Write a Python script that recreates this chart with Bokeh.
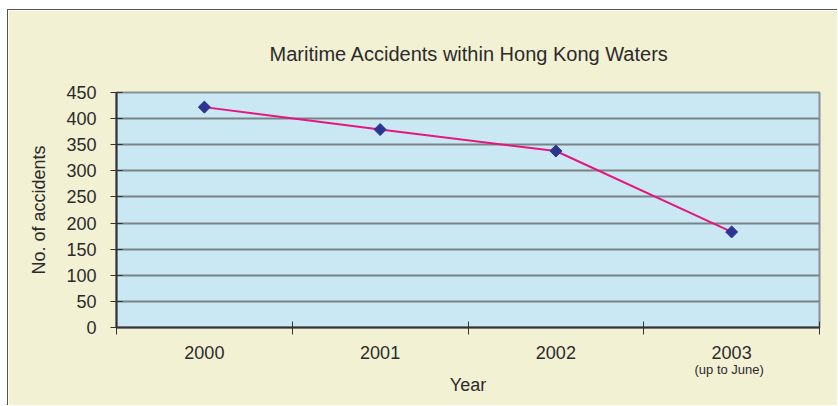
import math
from bokeh.plotting import figure
from bokeh.models import Range1d, FixedTicker, Title
from bokeh.embed import file_html
from bokeh.resources import INLINE

years = ["2000", "2001", "2002", "2003"]
accidents = [422, 379, 338, 183]
y_ticks = [0, 50, 100, 150, 200, 250, 300, 350, 400, 450]
note_2003 = "(up to June)"

xs = [i + 0.5 for i in range(len(years))]
FONT = "Liberation Sans"
TXT = "#2b2b2b"

p = figure(width=830, height=396, output_backend="svg", toolbar_location=None,
           x_range=Range1d(0, len(years)), y_range=Range1d(0, 450),
           min_border_left=108, min_border_right=19, min_border_top=82, min_border_bottom=79,
           title="Maritime Accidents within Hong Kong Waters")
p.margin = (9, 0, 0, 7)
p.styles = {"border-left": "1px solid #555555", "border-top": "1px solid #555555"}

p.border_fill_color = "#F3F1D4"
p.background_fill_color = "#C9E8F3"
p.outline_line_color = "#8a9096"
p.outline_line_width = 2

p.title.text_font = FONT
p.title.text_font_size = "20px"
p.title.text_font_style = "normal"
p.title.text_color = TXT
p.title.align = "left"
p.title.offset = 153
p.title.standoff = 56

# x axis
p.xaxis.ticker = FixedTicker(ticks=xs, minor_ticks=list(range(len(years) + 1)))
p.xaxis.major_label_overrides = {x: y for x, y in zip(xs, years)}
p.xaxis.major_tick_in = 0
p.xaxis.major_tick_out = 0
p.xaxis.minor_tick_in = 6
p.xaxis.minor_tick_out = 7
p.xaxis.minor_tick_line_color = "#333333"
p.xaxis.axis_line_color = "#333333"
p.xaxis.axis_line_width = 2
p.xaxis.major_label_standoff = 11
p.xaxis.major_label_text_font = FONT
p.xaxis.major_label_text_font_size = "18px"
p.xaxis.major_label_text_color = TXT

# note under 2003 and the x axis title
note = Title(text=note_2003, align="left", offset=578, text_font=FONT,
             text_font_size="13px", text_font_style="normal", text_color=TXT,
             standoff=-4)
year_title = Title(text="Year", align="center", offset=0, text_font=FONT,
                   text_font_size="18px", text_font_style="normal", text_color=TXT,
                   standoff=-4)
p.add_layout(note, "below")
p.add_layout(year_title, "below")

# y axis
p.yaxis.ticker = FixedTicker(ticks=y_ticks)
p.yaxis.major_tick_in = 6
p.yaxis.major_tick_out = 6
p.yaxis.minor_tick_line_color = None
p.yaxis.major_tick_line_color = "#333333"
p.yaxis.axis_line_color = "#333333"
p.yaxis.axis_line_width = 2
p.yaxis.major_label_standoff = 14
p.yaxis.major_label_text_font = FONT
p.yaxis.major_label_text_font_size = "18px"
p.yaxis.major_label_text_color = TXT
p.yaxis.axis_label = "No. of accidents"
p.yaxis.axis_label_text_font = FONT
p.yaxis.axis_label_text_font_size = "18px"
p.yaxis.axis_label_text_font_style = "normal"
p.yaxis.axis_label_text_color = TXT
p.yaxis.axis_label_standoff = 14

p.xgrid.grid_line_color = None
p.ygrid.grid_line_color = "#7b8288"
p.ygrid.grid_line_width = 2

p.line(xs, accidents, line_color="#E5177E", line_width=2)
p.scatter(xs, accidents, marker="square", angle=math.pi / 4, size=8.5,
          fill_color="#2B3591", line_color="#2B3591", line_width=1)

open("out.html", "w").write(file_html(p, INLINE))
